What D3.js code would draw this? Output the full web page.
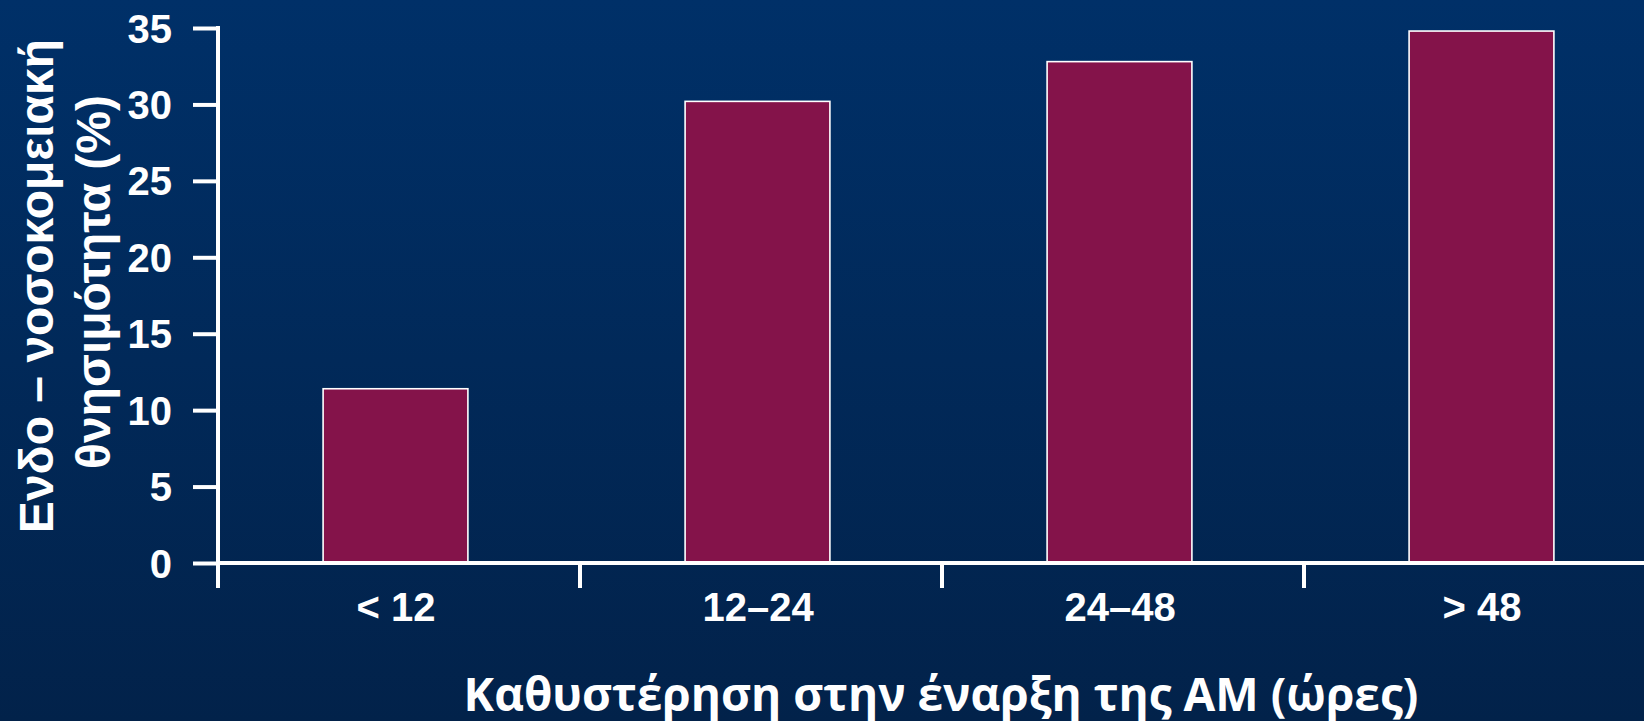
<!DOCTYPE html>
<html>
<head>
<meta charset="utf-8">
<script src="https://cdn.jsdelivr.net/npm/d3@7"></script>
<style>
  html, body { margin: 0; padding: 0; overflow: hidden; background: #012a5a; }
  svg { display: block; }
</style>
</head>
<body>
<svg id="chart" width="1644" height="721"></svg>
<script>
// In-hospital mortality by delay to start of treatment
const categories = ["< 12", "12–24", "24–48", "> 48"];
const mortality = [11.4, 30.2, 32.8, 34.8];
const yTicks = [0, 5, 10, 15, 20, 25, 30, 35];
const yTitleLines = ["Ενδο – νοσοκομειακή", "θνησιμότητα (%)"];
const xTitle = "Καθυστέρηση στην έναρξη της ΑΜ (ώρες)";

const W = 1644, H = 721;
const svg = d3.select("#chart");

// Background gradient
const defs = svg.append("defs");
const grad = defs.append("linearGradient")
  .attr("id", "bg").attr("x1", 0).attr("y1", 0).attr("x2", 0).attr("y2", 1);
grad.append("stop").attr("offset", "0%").attr("stop-color", "#003068");
grad.append("stop").attr("offset", "100%").attr("stop-color", "#02224a");
svg.append("rect").attr("width", W).attr("height", H).attr("fill", "url(#bg)");

const x = d3.scaleBand().domain(categories).range([218, 1666]).paddingInner(0).paddingOuter(0);
const y = d3.scaleLinear().domain([0, 35]).range([563, 28]);

const white = "#ffffff";
const labelFont = "'Liberation Sans', Arial, sans-serif";

// Bars
const barFrac = 0.4;
svg.append("g").selectAll("rect")
  .data(categories.map((c, i) => ({ c, v: mortality[i] })))
  .join("rect")
  .attr("x", d => x(d.c) + x.bandwidth() * (1 - barFrac) / 2 - 3.5)
  .attr("width", x.bandwidth() * barFrac)
  .attr("y", d => y(d.v))
  .attr("height", d => y(0) - y(d.v))
  .attr("fill", "#84134a")
  .attr("stroke", white)
  .attr("stroke-width", 1.6);

// Y axis
const yAxis = svg.append("g")
  .attr("transform", `translate(${x.range()[0]},0)`)
  .call(d3.axisLeft(y).tickValues(yTicks).tickSize(25).tickPadding(21).tickFormat(d3.format("d")));
yAxis.select(".domain").remove();
yAxis.selectAll(".tick line").attr("stroke", white).attr("stroke-width", 4);
yAxis.selectAll(".tick text")
  .attr("fill", white)
  .attr("font-family", labelFont)
  .attr("font-weight", "bold")
  .attr("font-size", 40)
  .attr("dy", "0.35em");
yAxis.append("line")
  .attr("x1", 0).attr("x2", 0)
  .attr("y1", y(35) - 2).attr("y2", y(0) + 25)
  .attr("stroke", white).attr("stroke-width", 4);

// X axis: baseline, boundary ticks, centred category labels
const xAxis = svg.append("g")
  .attr("transform", `translate(0,${y(0)})`)
  .call(d3.axisBottom(x).tickSize(0).tickPadding(0));
xAxis.select(".domain").remove();
xAxis.selectAll(".tick text")
  .attr("fill", white)
  .attr("font-family", labelFont)
  .attr("font-weight", "bold")
  .attr("font-size", 40)
  .attr("dy", null)
  .attr("y", 58)
  .attr("dx", -3);
xAxis.append("line")
  .attr("x1", x.range()[0]).attr("x2", x.range()[1])
  .attr("y1", 0).attr("y2", 0)
  .attr("stroke", white).attr("stroke-width", 4);
xAxis.append("g").selectAll("line")
  .data(categories)
  .join("line")
  .attr("x1", d => x(d)).attr("x2", d => x(d))
  .attr("y1", 0).attr("y2", 25)
  .attr("stroke", white).attr("stroke-width", 4);

// Y axis title (two lines, rotated)
const yTitle = svg.append("text")
  .attr("transform", "translate(0,284) rotate(-90)")
  .attr("fill", white)
  .attr("font-family", labelFont)
  .attr("font-weight", "bold")
  .attr("font-size", 48)
  .attr("text-anchor", "middle");
yTitle.selectAll("tspan")
  .data(yTitleLines)
  .join("tspan")
  .attr("x", (d, i) => i === 0 ? -2 : 2)
  .attr("y", (d, i) => 53 + i * 57)
  .text(d => d);

// X axis title
svg.append("text")
  .attr("x", 941)
  .attr("y", 711)
  .attr("fill", white)
  .attr("font-family", "'Open Sans', sans-serif")
  .attr("font-weight", 700)
  .attr("font-size", 46)
  .attr("text-anchor", "middle")
  .text(xTitle);
</script>
</body>
</html>
